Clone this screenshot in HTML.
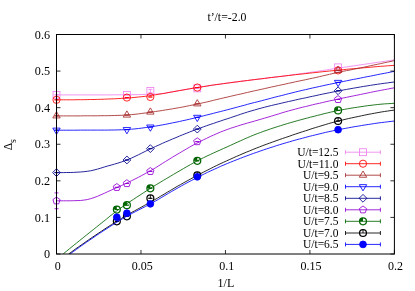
<!DOCTYPE html><html><head><meta charset="utf-8"><title>plot</title><style>html,body{margin:0;padding:0;background:#fff;}svg{display:block;}text{font-family:"Liberation Serif","DejaVu Serif",serif;fill:#000;}</style></head><body>
<svg width="415" height="291" viewBox="0 0 415 291">
<rect width="415" height="291" fill="#fff"/>
<text x="50.10" y="258.10" font-size="12.2" text-anchor="end">0</text>
<text x="50.10" y="221.52" font-size="12.2" text-anchor="end">0.1</text>
<text x="50.10" y="184.93" font-size="12.2" text-anchor="end">0.2</text>
<text x="50.10" y="148.35" font-size="12.2" text-anchor="end">0.3</text>
<text x="50.10" y="111.77" font-size="12.2" text-anchor="end">0.4</text>
<text x="50.10" y="75.18" font-size="12.2" text-anchor="end">0.5</text>
<text x="50.10" y="38.60" font-size="12.2" text-anchor="end">0.6</text>
<text x="57.70" y="269.60" font-size="12" text-anchor="middle">0</text>
<text x="142.17" y="269.60" font-size="12" text-anchor="middle">0.05</text>
<text x="226.65" y="269.60" font-size="12" text-anchor="middle">0.1</text>
<text x="311.12" y="269.60" font-size="12" text-anchor="middle">0.15</text>
<text x="395.60" y="269.60" font-size="12" text-anchor="middle">0.2</text>
<text x="226.95" y="21.1" font-size="11.8" text-anchor="middle">t’/t=-2.0</text>
<text x="225.95" y="286.5" font-size="12" text-anchor="middle">1/L</text>
<text transform="translate(12,144.7) rotate(-90)" font-size="11.5" text-anchor="middle">Δ<tspan font-size="9.8" dy="3.9">s</tspan></text>
<clipPath id="c"><rect x="56.5" y="34.5" width="337.9" height="219.5"/></clipPath>
<path d="M56.5,94.9 L59.9,94.9 L63.3,94.9 L66.7,94.9 L70.2,94.9 L73.6,94.9 L77.0,94.9 L80.4,94.9 L83.8,94.9 L87.2,94.9 L90.6,94.9 L94.0,94.9 L97.5,94.9 L100.9,94.9 L104.3,94.9 L107.7,94.9 L111.1,94.9 L114.5,94.8 L117.9,94.8 L121.3,94.8 L124.8,94.8 L128.2,94.8 L131.6,94.7 L135.0,94.7 L138.4,94.6 L141.8,94.5 L145.2,94.4 L148.7,94.3 L152.1,94.2 L155.5,94.1 L158.9,93.9 L162.3,93.6 L165.7,93.1 L169.1,92.5 L172.5,91.9 L176.0,91.2 L179.4,90.6 L182.8,90.0 L186.2,89.4 L189.6,88.8 L193.0,88.2 L196.4,87.7 L199.9,87.1 L203.3,86.6 L206.7,86.1 L210.1,85.5 L213.5,85.0 L216.9,84.5 L220.3,84.1 L223.7,83.6 L227.2,83.1 L230.6,82.7 L234.0,82.2 L237.4,81.8 L240.8,81.3 L244.2,80.9 L247.6,80.5 L251.0,80.1 L254.5,79.6 L257.9,79.2 L261.3,78.8 L264.7,78.4 L268.1,77.9 L271.5,77.5 L274.9,77.1 L278.4,76.7 L281.8,76.3 L285.2,75.8 L288.6,75.4 L292.0,74.9 L295.4,74.4 L298.8,74.0 L302.2,73.5 L305.7,73.0 L309.1,72.5 L312.5,72.0 L315.9,71.5 L319.3,71.0 L322.7,70.5 L326.1,70.0 L329.6,69.4 L333.0,68.9 L336.4,68.4 L339.8,67.9 L343.2,67.4 L346.6,66.9 L350.0,66.4 L353.4,65.9 L356.9,65.4 L360.3,64.9 L363.7,64.4 L367.1,63.9 L370.5,63.4 L373.9,62.9 L377.3,62.4 L380.7,61.9 L384.2,61.4 L387.6,60.9 L391.0,60.4 L394.4,59.9" fill="none" stroke="#ee82ee" stroke-width="0.85" stroke-linejoin="round" clip-path="url(#c)"/>
<path d="M56.50,94.86 V94.86 M54.50,94.86 h4.0 M54.50,94.86 h4.0" stroke="#ee82ee" stroke-width="0.85" fill="none"/>
<rect x="53.05" y="91.41" width="6.90" height="6.90" fill="none" stroke="#ee82ee" stroke-width="0.85"/>
<path d="M126.90,94.86 V94.86 M124.90,94.86 h4.0 M124.90,94.86 h4.0" stroke="#ee82ee" stroke-width="0.85" fill="none"/>
<rect x="123.45" y="91.41" width="6.90" height="6.90" fill="none" stroke="#ee82ee" stroke-width="0.85"/>
<path d="M150.36,89.37 V92.67 M148.36,89.37 h4.0 M148.36,92.67 h4.0" stroke="#ee82ee" stroke-width="0.85" fill="none"/>
<rect x="146.91" y="87.57" width="6.90" height="6.90" fill="none" stroke="#ee82ee" stroke-width="0.85"/>
<path d="M197.29,88.39 V88.39 M195.29,88.39 h4.0 M195.29,88.39 h4.0" stroke="#ee82ee" stroke-width="0.85" fill="none"/>
<rect x="193.84" y="84.94" width="6.90" height="6.90" fill="none" stroke="#ee82ee" stroke-width="0.85"/>
<path d="M338.08,67.35 V67.35 M336.08,67.35 h4.0 M336.08,67.35 h4.0" stroke="#ee82ee" stroke-width="0.85" fill="none"/>
<rect x="334.63" y="63.90" width="6.90" height="6.90" fill="none" stroke="#ee82ee" stroke-width="0.85"/>
<path d="M56.5,99.8 L59.9,99.8 L63.3,99.8 L66.7,99.8 L70.2,99.8 L73.6,99.8 L77.0,99.7 L80.4,99.7 L83.8,99.7 L87.2,99.6 L90.6,99.5 L94.0,99.5 L97.5,99.4 L100.9,99.3 L104.3,99.2 L107.7,99.0 L111.1,98.9 L114.5,98.8 L117.9,98.6 L121.3,98.4 L124.8,98.2 L128.2,97.9 L131.6,97.7 L135.0,97.4 L138.4,97.0 L141.8,96.7 L145.2,96.3 L148.7,95.8 L152.1,95.3 L155.5,94.8 L158.9,94.2 L162.3,93.7 L165.7,93.1 L169.1,92.4 L172.5,91.8 L176.0,91.2 L179.4,90.6 L182.8,90.0 L186.2,89.4 L189.6,88.8 L193.0,88.2 L196.4,87.7 L199.9,87.1 L203.3,86.6 L206.7,86.1 L210.1,85.5 L213.5,85.0 L216.9,84.5 L220.3,84.1 L223.7,83.6 L227.2,83.1 L230.6,82.7 L234.0,82.2 L237.4,81.8 L240.8,81.3 L244.2,80.9 L247.6,80.5 L251.0,80.0 L254.5,79.6 L257.9,79.2 L261.3,78.8 L264.7,78.4 L268.1,77.9 L271.5,77.5 L274.9,77.1 L278.4,76.7 L281.8,76.3 L285.2,75.9 L288.6,75.5 L292.0,75.1 L295.4,74.7 L298.8,74.3 L302.2,74.0 L305.7,73.6 L309.1,73.2 L312.5,72.8 L315.9,72.5 L319.3,72.1 L322.7,71.7 L326.1,71.4 L329.6,71.0 L333.0,70.7 L336.4,70.3 L339.8,70.0 L343.2,69.7 L346.6,69.3 L350.0,69.0 L353.4,68.7 L356.9,68.4 L360.3,68.1 L363.7,67.8 L367.1,67.5 L370.5,67.2 L373.9,66.9 L377.3,66.6 L380.7,66.3 L384.2,66.1 L387.6,65.8 L391.0,65.6 L394.4,65.3" fill="none" stroke="#ff0000" stroke-width="0.85" stroke-linejoin="round" clip-path="url(#c)"/>
<path d="M56.50,99.84 V99.84 M54.50,99.84 h4.0 M54.50,99.84 h4.0" stroke="#ff0000" stroke-width="0.85" fill="none"/>
<circle cx="56.50" cy="99.84" r="3.60" fill="none" stroke="#ff0000" stroke-width="0.85"/>
<path d="M126.90,97.57 V97.57 M124.90,97.57 h4.0 M124.90,97.57 h4.0" stroke="#ff0000" stroke-width="0.85" fill="none"/>
<circle cx="126.90" cy="97.57" r="3.60" fill="none" stroke="#ff0000" stroke-width="0.85"/>
<path d="M150.36,96.98 V96.98 M148.36,96.98 h4.0 M148.36,96.98 h4.0" stroke="#ff0000" stroke-width="0.85" fill="none"/>
<circle cx="150.36" cy="96.98" r="3.60" fill="none" stroke="#ff0000" stroke-width="0.85"/>
<path d="M197.29,87.55 V87.55 M195.29,87.55 h4.0 M195.29,87.55 h4.0" stroke="#ff0000" stroke-width="0.85" fill="none"/>
<circle cx="197.29" cy="87.55" r="3.60" fill="none" stroke="#ff0000" stroke-width="0.85"/>
<path d="M338.08,70.42 V70.42 M336.08,70.42 h4.0 M336.08,70.42 h4.0" stroke="#ff0000" stroke-width="0.85" fill="none"/>
<circle cx="338.08" cy="70.42" r="3.60" fill="none" stroke="#ff0000" stroke-width="0.85"/>
<path d="M56.5,115.9 L59.9,115.9 L63.3,115.9 L66.7,115.9 L70.2,115.9 L73.6,115.9 L77.0,115.9 L80.4,115.9 L83.8,115.8 L87.2,115.8 L90.6,115.8 L94.0,115.8 L97.5,115.8 L100.9,115.7 L104.3,115.7 L107.7,115.7 L111.1,115.6 L114.5,115.5 L117.9,115.4 L121.3,115.3 L124.8,115.1 L128.2,114.9 L131.6,114.6 L135.0,114.3 L138.4,113.9 L141.8,113.4 L145.2,113.0 L148.7,112.5 L152.1,112.0 L155.5,111.5 L158.9,111.0 L162.3,110.5 L165.7,109.9 L169.1,109.4 L172.5,108.8 L176.0,108.2 L179.4,107.6 L182.8,107.0 L186.2,106.3 L189.6,105.6 L193.0,104.9 L196.4,104.2 L199.9,103.5 L203.3,102.7 L206.7,102.0 L210.1,101.2 L213.5,100.3 L216.9,99.5 L220.3,98.7 L223.7,97.9 L227.2,97.1 L230.6,96.3 L234.0,95.5 L237.4,94.7 L240.8,94.0 L244.2,93.2 L247.6,92.4 L251.0,91.6 L254.5,90.8 L257.9,90.1 L261.3,89.3 L264.7,88.6 L268.1,87.8 L271.5,87.0 L274.9,86.3 L278.4,85.5 L281.8,84.8 L285.2,84.1 L288.6,83.3 L292.0,82.6 L295.4,81.8 L298.8,81.1 L302.2,80.4 L305.7,79.7 L309.1,78.9 L312.5,78.2 L315.9,77.5 L319.3,76.7 L322.7,75.9 L326.1,75.1 L329.6,74.3 L333.0,73.5 L336.4,72.8 L339.8,72.0 L343.2,71.3 L346.6,70.6 L350.0,70.0 L353.4,69.3 L356.9,68.6 L360.3,67.9 L363.7,67.2 L367.1,66.5 L370.5,65.7 L373.9,65.0 L377.3,64.3 L380.7,63.6 L384.2,62.8 L387.6,62.1 L391.0,61.4 L394.4,60.6" fill="none" stroke="#a52a2a" stroke-width="0.85" stroke-linejoin="round" clip-path="url(#c)"/>
<path d="M56.50,115.90 V115.90 M54.50,115.90 h4.0 M54.50,115.90 h4.0" stroke="#a52a2a" stroke-width="0.85" fill="none"/>
<path d="M56.50,111.70 L52.80,117.95 L60.20,117.95 Z" fill="none" stroke="#a52a2a" stroke-width="0.85"/>
<path d="M126.90,115.06 V115.06 M124.90,115.06 h4.0 M124.90,115.06 h4.0" stroke="#a52a2a" stroke-width="0.85" fill="none"/>
<path d="M126.90,110.86 L123.20,117.11 L130.60,117.11 Z" fill="none" stroke="#a52a2a" stroke-width="0.85"/>
<path d="M150.36,112.06 V112.06 M148.36,112.06 h4.0 M148.36,112.06 h4.0" stroke="#a52a2a" stroke-width="0.85" fill="none"/>
<path d="M150.36,107.86 L146.66,114.11 L154.06,114.11 Z" fill="none" stroke="#a52a2a" stroke-width="0.85"/>
<path d="M197.29,103.83 V103.83 M195.29,103.83 h4.0 M195.29,103.83 h4.0" stroke="#a52a2a" stroke-width="0.85" fill="none"/>
<path d="M197.29,99.63 L193.59,105.88 L200.99,105.88 Z" fill="none" stroke="#a52a2a" stroke-width="0.85"/>
<path d="M338.08,70.42 V70.42 M336.08,70.42 h4.0 M336.08,70.42 h4.0" stroke="#a52a2a" stroke-width="0.85" fill="none"/>
<path d="M338.08,66.22 L334.38,72.47 L341.78,72.47 Z" fill="none" stroke="#a52a2a" stroke-width="0.85"/>
<path d="M56.5,130.2 L59.9,130.2 L63.3,130.2 L66.7,130.2 L70.2,130.2 L73.6,130.2 L77.0,130.2 L80.4,130.1 L83.8,130.1 L87.2,130.1 L90.6,130.1 L94.0,130.1 L97.5,130.1 L100.9,130.1 L104.3,130.1 L107.7,130.1 L111.1,130.0 L114.5,130.0 L117.9,129.9 L121.3,129.8 L124.8,129.7 L128.2,129.5 L131.6,129.2 L135.0,128.9 L138.4,128.5 L141.8,128.1 L145.2,127.6 L148.7,127.1 L152.1,126.6 L155.5,126.1 L158.9,125.5 L162.3,124.9 L165.7,124.3 L169.1,123.6 L172.5,122.9 L176.0,122.2 L179.4,121.5 L182.8,120.7 L186.2,120.0 L189.6,119.2 L193.0,118.4 L196.4,117.5 L199.9,116.7 L203.3,115.9 L206.7,115.0 L210.1,114.2 L213.5,113.3 L216.9,112.4 L220.3,111.6 L223.7,110.7 L227.2,109.8 L230.6,108.9 L234.0,108.0 L237.4,107.1 L240.8,106.2 L244.2,105.3 L247.6,104.3 L251.0,103.4 L254.5,102.5 L257.9,101.7 L261.3,100.8 L264.7,99.9 L268.1,99.0 L271.5,98.1 L274.9,97.2 L278.4,96.3 L281.8,95.5 L285.2,94.6 L288.6,93.7 L292.0,92.9 L295.4,92.0 L298.8,91.2 L302.2,90.4 L305.7,89.6 L309.1,88.8 L312.5,88.0 L315.9,87.3 L319.3,86.5 L322.7,85.8 L326.1,85.0 L329.6,84.3 L333.0,83.6 L336.4,82.9 L339.8,82.2 L343.2,81.5 L346.6,80.8 L350.0,80.1 L353.4,79.4 L356.9,78.8 L360.3,78.1 L363.7,77.4 L367.1,76.7 L370.5,76.1 L373.9,75.4 L377.3,74.7 L380.7,74.0 L384.2,73.4 L387.6,72.7 L391.0,72.0 L394.4,71.3" fill="none" stroke="#0000ff" stroke-width="0.85" stroke-linejoin="round" clip-path="url(#c)"/>
<path d="M56.50,130.17 V130.17 M54.50,130.17 h4.0 M54.50,130.17 h4.0" stroke="#0000ff" stroke-width="0.85" fill="none"/>
<path d="M56.50,134.37 L52.80,128.12 L60.20,128.12 Z" fill="none" stroke="#0000ff" stroke-width="0.85"/>
<path d="M126.90,129.62 V129.62 M124.90,129.62 h4.0 M124.90,129.62 h4.0" stroke="#0000ff" stroke-width="0.85" fill="none"/>
<path d="M126.90,133.82 L123.20,127.57 L130.60,127.57 Z" fill="none" stroke="#0000ff" stroke-width="0.85"/>
<path d="M150.36,127.06 V127.06 M148.36,127.06 h4.0 M148.36,127.06 h4.0" stroke="#0000ff" stroke-width="0.85" fill="none"/>
<path d="M150.36,131.26 L146.66,125.01 L154.06,125.01 Z" fill="none" stroke="#0000ff" stroke-width="0.85"/>
<path d="M197.29,117.36 V117.36 M195.29,117.36 h4.0 M195.29,117.36 h4.0" stroke="#0000ff" stroke-width="0.85" fill="none"/>
<path d="M197.29,121.56 L193.59,115.31 L200.99,115.31 Z" fill="none" stroke="#0000ff" stroke-width="0.85"/>
<path d="M338.08,82.42 V82.42 M336.08,82.42 h4.0 M336.08,82.42 h4.0" stroke="#0000ff" stroke-width="0.85" fill="none"/>
<path d="M338.08,86.62 L334.38,80.37 L341.78,80.37 Z" fill="none" stroke="#0000ff" stroke-width="0.85"/>
<path d="M56.5,172.6 L59.9,172.6 L63.3,172.6 L66.7,172.5 L70.2,172.5 L73.6,172.4 L77.0,172.2 L80.4,172.0 L83.8,171.7 L87.2,171.3 L90.6,170.8 L94.0,170.0 L97.5,169.1 L100.9,168.1 L104.3,167.0 L107.7,166.0 L111.1,165.1 L114.5,164.1 L117.9,163.1 L121.3,162.0 L124.8,160.8 L128.2,159.5 L131.6,158.0 L135.0,156.4 L138.4,154.8 L141.8,153.1 L145.2,151.4 L148.7,149.7 L152.1,148.1 L155.5,146.5 L158.9,145.0 L162.3,143.4 L165.7,141.9 L169.1,140.5 L172.5,139.0 L176.0,137.6 L179.4,136.1 L182.8,134.7 L186.2,133.4 L189.6,132.0 L193.0,130.7 L196.4,129.4 L199.9,128.2 L203.3,126.9 L206.7,125.7 L210.1,124.5 L213.5,123.4 L216.9,122.2 L220.3,121.1 L223.7,119.9 L227.2,118.8 L230.6,117.7 L234.0,116.5 L237.4,115.4 L240.8,114.2 L244.2,113.1 L247.6,112.0 L251.0,111.0 L254.5,110.0 L257.9,109.0 L261.3,108.1 L264.7,107.2 L268.1,106.3 L271.5,105.5 L274.9,104.7 L278.4,103.9 L281.8,103.1 L285.2,102.3 L288.6,101.5 L292.0,100.8 L295.4,100.0 L298.8,99.2 L302.2,98.5 L305.7,97.8 L309.1,97.0 L312.5,96.3 L315.9,95.6 L319.3,94.8 L322.7,94.1 L326.1,93.4 L329.6,92.7 L333.0,92.0 L336.4,91.3 L339.8,90.6 L343.2,90.0 L346.6,89.4 L350.0,88.8 L353.4,88.2 L356.9,87.6 L360.3,87.0 L363.7,86.4 L367.1,85.9 L370.5,85.3 L373.9,84.8 L377.3,84.3 L380.7,83.8 L384.2,83.3 L387.6,82.9 L391.0,82.4 L394.4,82.0" fill="none" stroke="#00008b" stroke-width="0.85" stroke-linejoin="round" clip-path="url(#c)"/>
<path d="M56.50,172.60 V172.60 M54.50,172.60 h4.0 M54.50,172.60 h4.0" stroke="#00008b" stroke-width="0.85" fill="none"/>
<path d="M56.50,168.70 L60.40,172.60 L56.50,176.50 L52.60,172.60 Z" fill="none" stroke="#00008b" stroke-width="0.85"/>
<path d="M126.90,159.98 V159.98 M124.90,159.98 h4.0 M124.90,159.98 h4.0" stroke="#00008b" stroke-width="0.85" fill="none"/>
<path d="M126.90,156.08 L130.80,159.98 L126.90,163.88 L123.00,159.98 Z" fill="none" stroke="#00008b" stroke-width="0.85"/>
<path d="M150.36,148.64 V148.64 M148.36,148.64 h4.0 M148.36,148.64 h4.0" stroke="#00008b" stroke-width="0.85" fill="none"/>
<path d="M150.36,144.74 L154.26,148.64 L150.36,152.54 L146.46,148.64 Z" fill="none" stroke="#00008b" stroke-width="0.85"/>
<path d="M197.29,129.10 V129.10 M195.29,129.10 h4.0 M195.29,129.10 h4.0" stroke="#00008b" stroke-width="0.85" fill="none"/>
<path d="M197.29,125.20 L201.19,129.10 L197.29,133.00 L193.39,129.10 Z" fill="none" stroke="#00008b" stroke-width="0.85"/>
<path d="M338.08,90.77 V90.77 M336.08,90.77 h4.0 M336.08,90.77 h4.0" stroke="#00008b" stroke-width="0.85" fill="none"/>
<path d="M338.08,86.87 L341.98,90.77 L338.08,94.67 L334.18,90.77 Z" fill="none" stroke="#00008b" stroke-width="0.85"/>
<path d="M56.5,200.8 L59.9,200.8 L63.3,200.8 L66.7,200.8 L70.2,200.8 L73.6,200.7 L77.0,200.6 L80.4,200.5 L83.8,200.1 L87.2,199.6 L90.6,198.7 L94.0,197.6 L97.5,196.3 L100.9,194.8 L104.3,193.3 L107.7,191.7 L111.1,190.2 L114.5,188.6 L117.9,187.1 L121.3,185.6 L124.8,184.0 L128.2,182.4 L131.6,180.7 L135.0,179.0 L138.4,177.3 L141.8,175.5 L145.2,173.6 L148.7,171.7 L152.1,169.8 L155.5,167.8 L158.9,165.7 L162.3,163.5 L165.7,161.4 L169.1,159.3 L172.5,157.2 L176.0,155.1 L179.4,153.1 L182.8,151.1 L186.2,149.1 L189.6,147.1 L193.0,145.2 L196.4,143.4 L199.9,141.7 L203.3,139.9 L206.7,138.3 L210.1,136.6 L213.5,135.1 L216.9,133.6 L220.3,132.1 L223.7,130.8 L227.2,129.5 L230.6,128.3 L234.0,127.2 L237.4,126.1 L240.8,125.0 L244.2,124.0 L247.6,123.0 L251.0,122.1 L254.5,121.1 L257.9,120.1 L261.3,119.1 L264.7,118.1 L268.1,117.1 L271.5,116.1 L274.9,115.0 L278.4,114.0 L281.8,112.9 L285.2,111.9 L288.6,110.9 L292.0,110.0 L295.4,109.1 L298.8,108.2 L302.2,107.3 L305.7,106.5 L309.1,105.7 L312.5,104.8 L315.9,104.0 L319.3,103.3 L322.7,102.5 L326.1,101.7 L329.6,100.9 L333.0,100.2 L336.4,99.5 L339.8,98.7 L343.2,98.0 L346.6,97.3 L350.0,96.6 L353.4,95.9 L356.9,95.2 L360.3,94.5 L363.7,93.8 L367.1,93.1 L370.5,92.4 L373.9,91.7 L377.3,91.0 L380.7,90.4 L384.2,89.7 L387.6,89.1 L391.0,88.4 L394.4,87.8" fill="none" stroke="#9400d3" stroke-width="0.85" stroke-linejoin="round" clip-path="url(#c)"/>
<path d="M56.50,192.91 V208.71 M54.50,192.91 h4.0 M54.50,208.71 h4.0" stroke="#9400d3" stroke-width="0.85" fill="none"/>
<polygon points="56.50,197.01 60.11,199.63 58.73,203.88 54.27,203.88 52.89,199.63" fill="none" stroke="#9400d3" stroke-width="0.85"/>
<path d="M116.84,187.35 V187.35 M114.84,187.35 h4.0 M114.84,187.35 h4.0" stroke="#9400d3" stroke-width="0.85" fill="none"/>
<polygon points="116.84,183.55 120.45,186.17 119.07,190.42 114.61,190.42 113.23,186.17" fill="none" stroke="#9400d3" stroke-width="0.85"/>
<path d="M126.90,183.50 V183.50 M124.90,183.50 h4.0 M124.90,183.50 h4.0" stroke="#9400d3" stroke-width="0.85" fill="none"/>
<polygon points="126.90,179.70 130.51,182.33 129.13,186.58 124.66,186.58 123.28,182.33" fill="none" stroke="#9400d3" stroke-width="0.85"/>
<path d="M150.36,171.39 V171.39 M148.36,171.39 h4.0 M148.36,171.39 h4.0" stroke="#9400d3" stroke-width="0.85" fill="none"/>
<polygon points="150.36,167.59 153.98,170.22 152.59,174.47 148.13,174.47 146.75,170.22" fill="none" stroke="#9400d3" stroke-width="0.85"/>
<path d="M197.29,141.62 V141.62 M195.29,141.62 h4.0 M195.29,141.62 h4.0" stroke="#9400d3" stroke-width="0.85" fill="none"/>
<polygon points="197.29,137.82 200.91,140.44 199.53,144.69 195.06,144.69 193.68,140.44" fill="none" stroke="#9400d3" stroke-width="0.85"/>
<path d="M338.08,99.44 V99.44 M336.08,99.44 h4.0 M336.08,99.44 h4.0" stroke="#9400d3" stroke-width="0.85" fill="none"/>
<polygon points="338.08,95.64 341.70,98.26 340.32,102.51 335.85,102.51 334.47,98.26" fill="none" stroke="#9400d3" stroke-width="0.85"/>
<path d="M63.1,254.0 L66.4,251.3 L69.8,248.5 L73.1,245.8 L76.5,243.1 L79.8,240.4 L83.2,237.7 L86.5,235.0 L89.9,232.3 L93.2,229.7 L96.6,227.0 L99.9,224.3 L103.2,221.7 L106.6,219.0 L109.9,216.2 L113.3,213.6 L116.6,211.0 L120.0,208.5 L123.3,206.2 L126.7,203.9 L130.0,201.6 L133.4,199.4 L136.7,197.2 L140.1,195.0 L143.4,192.8 L146.8,190.7 L150.1,188.5 L153.4,186.4 L156.8,184.4 L160.1,182.4 L163.5,180.3 L166.8,178.4 L170.2,176.4 L173.5,174.4 L176.9,172.4 L180.2,170.5 L183.6,168.5 L186.9,166.6 L190.3,164.7 L193.6,162.8 L197.0,161.0 L200.3,159.3 L203.6,157.7 L207.0,156.0 L210.3,154.5 L213.7,152.9 L217.0,151.4 L220.4,149.9 L223.7,148.4 L227.1,146.9 L230.4,145.4 L233.8,143.8 L237.1,142.3 L240.5,140.8 L243.8,139.3 L247.2,137.8 L250.5,136.4 L253.8,135.0 L257.2,133.7 L260.5,132.5 L263.9,131.2 L267.2,130.1 L270.6,128.9 L273.9,127.8 L277.3,126.7 L280.6,125.7 L284.0,124.6 L287.3,123.6 L290.7,122.6 L294.0,121.7 L297.3,120.7 L300.7,119.8 L304.0,118.9 L307.4,118.0 L310.7,117.1 L314.1,116.3 L317.4,115.4 L320.8,114.6 L324.1,113.7 L327.5,112.9 L330.8,112.1 L334.2,111.3 L337.5,110.6 L340.9,110.0 L344.2,109.4 L347.5,108.8 L350.9,108.2 L354.2,107.7 L357.6,107.2 L360.9,106.7 L364.3,106.2 L367.6,105.7 L371.0,105.3 L374.3,104.9 L377.7,104.5 L381.0,104.2 L384.4,103.9 L387.7,103.7 L391.1,103.5 L394.4,103.3" fill="none" stroke="#006400" stroke-width="0.85" stroke-linejoin="round" clip-path="url(#c)"/>
<path d="M116.84,209.55 V209.55 M114.84,209.55 h4.0 M114.84,209.55 h4.0" stroke="#006400" stroke-width="0.85" fill="none"/>
<path d="M116.84,209.55 L116.84,206.10 A3.45,3.45 0 0 0 113.39,209.55 Z" fill="#006400"/><circle cx="116.84" cy="209.55" r="3.45" fill="none" stroke="#006400" stroke-width="1.25"/>
<path d="M126.90,205.16 V205.16 M124.90,205.16 h4.0 M124.90,205.16 h4.0" stroke="#006400" stroke-width="0.85" fill="none"/>
<path d="M126.90,205.16 L126.90,201.71 A3.45,3.45 0 0 0 123.45,205.16 Z" fill="#006400"/><circle cx="126.90" cy="205.16" r="3.45" fill="none" stroke="#006400" stroke-width="1.25"/>
<path d="M150.36,188.30 V188.30 M148.36,188.30 h4.0 M148.36,188.30 h4.0" stroke="#006400" stroke-width="0.85" fill="none"/>
<path d="M150.36,188.30 L150.36,184.85 A3.45,3.45 0 0 0 146.91,188.30 Z" fill="#006400"/><circle cx="150.36" cy="188.30" r="3.45" fill="none" stroke="#006400" stroke-width="1.25"/>
<path d="M197.29,160.82 V160.82 M195.29,160.82 h4.0 M195.29,160.82 h4.0" stroke="#006400" stroke-width="0.85" fill="none"/>
<path d="M197.29,160.82 L197.29,157.37 A3.45,3.45 0 0 0 193.84,160.82 Z" fill="#006400"/><circle cx="197.29" cy="160.82" r="3.45" fill="none" stroke="#006400" stroke-width="1.25"/>
<path d="M338.08,110.41 V110.41 M336.08,110.41 h4.0 M336.08,110.41 h4.0" stroke="#006400" stroke-width="0.85" fill="none"/>
<path d="M338.08,110.41 L338.08,106.96 A3.45,3.45 0 0 0 334.63,110.41 Z" fill="#006400"/><circle cx="338.08" cy="110.41" r="3.45" fill="none" stroke="#006400" stroke-width="1.25"/>
<path d="M68.7,254.0 L72.0,251.6 L75.2,249.2 L78.5,246.9 L81.8,244.6 L85.1,242.3 L88.4,240.0 L91.7,237.7 L95.0,235.5 L98.3,233.3 L101.6,231.1 L104.9,228.9 L108.1,226.8 L111.4,224.7 L114.7,222.6 L118.0,220.5 L121.3,218.5 L124.6,216.5 L127.9,214.6 L131.2,212.7 L134.5,210.9 L137.8,209.1 L141.1,207.3 L144.3,205.5 L147.6,203.7 L150.9,201.9 L154.2,200.0 L157.5,198.1 L160.8,196.1 L164.1,194.2 L167.4,192.2 L170.7,190.3 L174.0,188.3 L177.2,186.4 L180.5,184.6 L183.8,182.7 L187.1,180.9 L190.4,179.1 L193.7,177.3 L197.0,175.5 L200.3,173.8 L203.6,172.1 L206.9,170.4 L210.1,168.8 L213.4,167.1 L216.7,165.5 L220.0,163.9 L223.3,162.4 L226.6,160.9 L229.9,159.4 L233.2,157.9 L236.5,156.4 L239.8,155.0 L243.0,153.6 L246.3,152.2 L249.6,150.9 L252.9,149.5 L256.2,148.2 L259.5,146.9 L262.8,145.6 L266.1,144.4 L269.4,143.2 L272.7,142.0 L276.0,140.8 L279.2,139.7 L282.5,138.5 L285.8,137.4 L289.1,136.3 L292.4,135.1 L295.7,134.0 L299.0,132.9 L302.3,131.8 L305.6,130.8 L308.9,129.7 L312.1,128.6 L315.4,127.6 L318.7,126.6 L322.0,125.6 L325.3,124.6 L328.6,123.6 L331.9,122.7 L335.2,121.8 L338.5,121.0 L341.8,120.2 L345.0,119.4 L348.3,118.6 L351.6,117.9 L354.9,117.2 L358.2,116.5 L361.5,115.8 L364.8,115.1 L368.1,114.4 L371.4,113.8 L374.7,113.2 L377.9,112.6 L381.2,112.0 L384.5,111.5 L387.8,111.0 L391.1,110.5 L394.4,110.1" fill="none" stroke="#000000" stroke-width="0.85" stroke-linejoin="round" clip-path="url(#c)"/>
<path d="M116.84,221.33 V221.33 M114.84,221.33 h4.0 M114.84,221.33 h4.0" stroke="#000000" stroke-width="0.85" fill="none"/>
<circle cx="116.84" cy="221.33" r="3.45" fill="none" stroke="#000000" stroke-width="1.25"/><path d="M116.84,221.33 L116.84,217.88" stroke="#000000" stroke-width="0.9" fill="none"/>
<path d="M126.90,216.32 V216.32 M124.90,216.32 h4.0 M124.90,216.32 h4.0" stroke="#000000" stroke-width="0.85" fill="none"/>
<circle cx="126.90" cy="216.32" r="3.45" fill="none" stroke="#000000" stroke-width="1.25"/><path d="M126.90,216.32 L126.90,212.87" stroke="#000000" stroke-width="0.9" fill="none"/>
<path d="M150.36,198.32 V198.32 M148.36,198.32 h4.0 M148.36,198.32 h4.0" stroke="#000000" stroke-width="0.85" fill="none"/>
<circle cx="150.36" cy="198.32" r="3.45" fill="none" stroke="#000000" stroke-width="1.25"/><path d="M150.36,198.32 L150.36,194.87" stroke="#000000" stroke-width="0.9" fill="none"/>
<path d="M197.29,175.27 V175.27 M195.29,175.27 h4.0 M195.29,175.27 h4.0" stroke="#000000" stroke-width="0.85" fill="none"/>
<circle cx="197.29" cy="175.27" r="3.45" fill="none" stroke="#000000" stroke-width="1.25"/><path d="M197.29,175.27 L197.29,171.82" stroke="#000000" stroke-width="0.9" fill="none"/>
<path d="M338.08,121.02 V121.02 M336.08,121.02 h4.0 M336.08,121.02 h4.0" stroke="#000000" stroke-width="0.85" fill="none"/>
<circle cx="338.08" cy="121.02" r="3.45" fill="none" stroke="#000000" stroke-width="1.25"/><path d="M338.08,121.02 L338.08,117.57" stroke="#000000" stroke-width="0.9" fill="none"/>
<path d="M70.0,254.0 L73.3,251.6 L76.6,249.3 L79.8,246.9 L83.1,244.6 L86.4,242.3 L89.7,240.1 L93.0,237.8 L96.2,235.6 L99.5,233.4 L102.8,231.2 L106.1,229.1 L109.3,227.0 L112.6,224.9 L115.9,222.8 L119.2,220.8 L122.4,218.8 L125.7,216.9 L129.0,215.1 L132.3,213.3 L135.5,211.6 L138.8,209.9 L142.1,208.2 L145.4,206.5 L148.7,204.8 L151.9,203.0 L155.2,201.2 L158.5,199.3 L161.8,197.3 L165.0,195.4 L168.3,193.4 L171.6,191.5 L174.9,189.6 L178.1,187.8 L181.4,185.9 L184.7,184.1 L188.0,182.3 L191.3,180.6 L194.5,178.9 L197.8,177.2 L201.1,175.5 L204.4,173.9 L207.6,172.3 L210.9,170.8 L214.2,169.3 L217.5,167.8 L220.7,166.3 L224.0,164.9 L227.3,163.5 L230.6,162.2 L233.8,160.9 L237.1,159.6 L240.4,158.3 L243.7,157.0 L247.0,155.8 L250.2,154.6 L253.5,153.4 L256.8,152.3 L260.1,151.1 L263.3,150.0 L266.6,148.9 L269.9,147.8 L273.2,146.8 L276.4,145.7 L279.7,144.7 L283.0,143.7 L286.3,142.7 L289.5,141.8 L292.8,140.8 L296.1,139.9 L299.4,139.0 L302.7,138.2 L305.9,137.3 L309.2,136.4 L312.5,135.6 L315.8,134.8 L319.0,134.0 L322.3,133.2 L325.6,132.4 L328.9,131.7 L332.1,131.0 L335.4,130.3 L338.7,129.6 L342.0,129.0 L345.3,128.4 L348.5,127.8 L351.8,127.2 L355.1,126.6 L358.4,126.1 L361.6,125.5 L364.9,125.0 L368.2,124.5 L371.5,124.0 L374.7,123.5 L378.0,123.0 L381.3,122.6 L384.6,122.2 L387.8,121.8 L391.1,121.4 L394.4,121.0" fill="none" stroke="#0000ff" stroke-width="0.85" stroke-linejoin="round" clip-path="url(#c)"/>
<path d="M116.84,217.23 V217.23 M114.84,217.23 h4.0 M114.84,217.23 h4.0" stroke="#0000ff" stroke-width="0.85" fill="none"/>
<circle cx="116.84" cy="217.23" r="3.40" fill="#0000ff" stroke="#0000ff" stroke-width="0.85"/>
<path d="M126.90,213.21 V213.21 M124.90,213.21 h4.0 M124.90,213.21 h4.0" stroke="#0000ff" stroke-width="0.85" fill="none"/>
<circle cx="126.90" cy="213.21" r="3.40" fill="#0000ff" stroke="#0000ff" stroke-width="0.85"/>
<path d="M150.36,203.81 V203.81 M148.36,203.81 h4.0 M148.36,203.81 h4.0" stroke="#0000ff" stroke-width="0.85" fill="none"/>
<circle cx="150.36" cy="203.81" r="3.40" fill="#0000ff" stroke="#0000ff" stroke-width="0.85"/>
<path d="M197.29,176.81 V176.81 M195.29,176.81 h4.0 M195.29,176.81 h4.0" stroke="#0000ff" stroke-width="0.85" fill="none"/>
<circle cx="197.29" cy="176.81" r="3.40" fill="#0000ff" stroke="#0000ff" stroke-width="0.85"/>
<path d="M338.08,129.69 V129.69 M336.08,129.69 h4.0 M336.08,129.69 h4.0" stroke="#0000ff" stroke-width="0.85" fill="none"/>
<circle cx="338.08" cy="129.69" r="3.40" fill="#0000ff" stroke="#0000ff" stroke-width="0.85"/>
<text x="338.5" y="156.05" font-size="11.5" text-anchor="end">U/t=12.5</text>
<path d="M345.5,152.20 H380.4 M345.5,150.20 v4 M380.4,150.20 v4" stroke="#ee82ee" stroke-width="0.85" fill="none"/>
<rect x="359.55" y="148.75" width="6.90" height="6.90" fill="none" stroke="#ee82ee" stroke-width="0.85"/>
<text x="338.5" y="167.55" font-size="11.5" text-anchor="end">U/t=11.0</text>
<path d="M345.5,163.70 H380.4 M345.5,161.70 v4 M380.4,161.70 v4" stroke="#ff0000" stroke-width="0.85" fill="none"/>
<circle cx="363.00" cy="163.70" r="3.60" fill="none" stroke="#ff0000" stroke-width="0.85"/>
<text x="338.5" y="179.05" font-size="11.5" text-anchor="end">U/t=9.5</text>
<path d="M345.5,175.20 H380.4 M345.5,173.20 v4 M380.4,173.20 v4" stroke="#a52a2a" stroke-width="0.85" fill="none"/>
<path d="M363.00,171.00 L359.30,177.25 L366.70,177.25 Z" fill="none" stroke="#a52a2a" stroke-width="0.85"/>
<text x="338.5" y="190.55" font-size="11.5" text-anchor="end">U/t=9.0</text>
<path d="M345.5,186.70 H380.4 M345.5,184.70 v4 M380.4,184.70 v4" stroke="#0000ff" stroke-width="0.85" fill="none"/>
<path d="M363.00,190.90 L359.30,184.65 L366.70,184.65 Z" fill="none" stroke="#0000ff" stroke-width="0.85"/>
<text x="338.5" y="202.15" font-size="11.5" text-anchor="end">U/t=8.5</text>
<path d="M345.5,198.30 H380.4 M345.5,196.30 v4 M380.4,196.30 v4" stroke="#00008b" stroke-width="0.85" fill="none"/>
<path d="M363.00,194.40 L366.90,198.30 L363.00,202.20 L359.10,198.30 Z" fill="none" stroke="#00008b" stroke-width="0.85"/>
<text x="338.5" y="213.65" font-size="11.5" text-anchor="end">U/t=8.0</text>
<path d="M345.5,209.80 H380.4 M345.5,207.80 v4 M380.4,207.80 v4" stroke="#9400d3" stroke-width="0.85" fill="none"/>
<polygon points="363.00,206.00 366.61,208.63 365.23,212.87 360.77,212.87 359.39,208.63" fill="none" stroke="#9400d3" stroke-width="0.85"/>
<text x="338.5" y="225.15" font-size="11.5" text-anchor="end">U/t=7.5</text>
<path d="M345.5,221.30 H380.4 M345.5,219.30 v4 M380.4,219.30 v4" stroke="#006400" stroke-width="0.85" fill="none"/>
<path d="M363.00,221.30 L363.00,217.85 A3.45,3.45 0 0 0 359.55,221.30 Z" fill="#006400"/><circle cx="363.00" cy="221.30" r="3.45" fill="none" stroke="#006400" stroke-width="1.25"/>
<text x="338.5" y="236.85" font-size="11.5" text-anchor="end">U/t=7.0</text>
<path d="M345.5,233.00 H380.4 M345.5,231.00 v4 M380.4,231.00 v4" stroke="#000000" stroke-width="0.85" fill="none"/>
<circle cx="363.00" cy="233.00" r="3.45" fill="none" stroke="#000000" stroke-width="1.25"/><path d="M363.00,233.00 L363.00,229.55" stroke="#000000" stroke-width="0.9" fill="none"/>
<text x="338.5" y="248.25" font-size="11.5" text-anchor="end">U/t=6.5</text>
<path d="M345.5,244.40 H380.4 M345.5,242.40 v4 M380.4,242.40 v4" stroke="#0000ff" stroke-width="0.85" fill="none"/>
<circle cx="363.00" cy="244.40" r="3.40" fill="#0000ff" stroke="#0000ff" stroke-width="0.85"/>
<path d="M56.5,254.00 h4 M394.4,254.00 h-4 M56.5,217.42 h4 M394.4,217.42 h-4 M56.5,180.83 h4 M394.4,180.83 h-4 M56.5,144.25 h4 M394.4,144.25 h-4 M56.5,107.67 h4 M394.4,107.67 h-4 M56.5,71.08 h4 M394.4,71.08 h-4 M56.5,34.50 h4 M394.4,34.50 h-4 M56.50,254.0 v-4 M56.50,34.5 v4 M140.97,254.0 v-4 M140.97,34.5 v4 M225.45,254.0 v-4 M225.45,34.5 v4 M309.93,254.0 v-4 M309.93,34.5 v4 M394.40,254.0 v-4 M394.40,34.5 v4" stroke="#000" stroke-width="0.8" fill="none"/>
<rect x="56.5" y="34.5" width="337.9" height="219.5" fill="none" stroke="#000" stroke-width="1"/>
</svg></body></html>
